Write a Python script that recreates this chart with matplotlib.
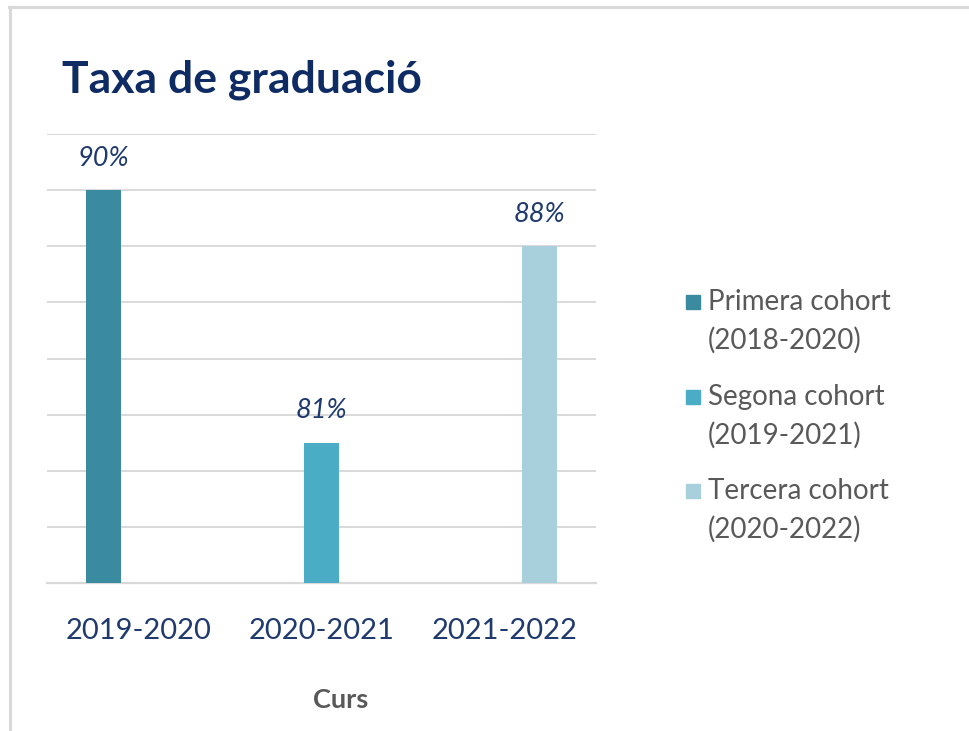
import matplotlib.pyplot as plt
from matplotlib.patches import Rectangle
from matplotlib.lines import Line2D
import numpy as np

plt.rcParams['font.family'] = ['Lato', 'DejaVu Sans']

categories = ["2019-2020", "2020-2021", "2021-2022"]
series_names = ["Primera cohort\n(2018-2020)", "Segona cohort\n(2019-2021)", "Tercera cohort\n(2020-2022)"]
primera = [90, np.nan, np.nan]
segona = [np.nan, 81, np.nan]
tercera = [np.nan, np.nan, 88]
series_values = [primera, segona, tercera]
colors = ["#3a8aa0", "#4bacc6", "#a8cfdc"]

W, H = 970, 731
fig = plt.figure(figsize=(W / 100, H / 100), dpi=100)

def fx(px):
    return px / W

def fy(py):
    return 1 - py / H

# frame of the screenshot
fig.add_artist(Line2D([fx(9), 1], [fy(7), fy(7)], color="#d9d9d9", lw=2.2))
fig.add_artist(Line2D([fx(10.5), fx(10.5)], [fy(7), 0], color="#d9d9d9", lw=2.2))

ax = fig.add_axes([fx(47), fy(583), fx(596) - fx(47), fy(134) - fy(583)])
x = np.arange(len(categories))
bw = 0.19
offsets = [-bw, 0, bw]
navy = "#1f3a6e"
for vals, off, col in zip(series_values, offsets, colors):
    bars = ax.bar(x + off, vals, width=bw, color=col, zorder=3)
    for xi, v in zip(x + off, vals):
        if not np.isnan(v):
            ax.annotate(f"{v:.0f}%", (xi, v), xytext=(0, 23), textcoords="offset points",
                        ha="center", va="center", fontsize=19.5, style="italic", color=navy)

ax.set_ylim(76, 92)
ax.set_xlim(-0.5, 2.5)
ax.set_yticks(np.arange(76, 93, 2))
ax.yaxis.grid(True, color="#d9d9d9", lw=1.4, zorder=0)
ax.tick_params(axis="y", length=0, labelleft=False)
ax.set_xticks(x)
ax.set_xticklabels(categories, fontsize=21, color=navy)
ax.tick_params(axis="x", length=0, pad=25)
for s in ["top", "right", "left"]:
    ax.spines[s].set_visible(False)
ax.spines["bottom"].set_color("#d9d9d9")
ax.spines["bottom"].set_linewidth(1.6)
ax.set_axisbelow(True)

fig.text(fx(341), fy(700), "Curs", ha="center", va="center", fontsize=19.5,
         fontweight="bold", color="#595959")

fig.text(fx(62), fy(93), "Taxa de graduació", ha="left", va="baseline", fontsize=32,
         fontweight="bold", color="#0f2b63")

# legend
entry_tops = [302, 397, 491]
for name, col, yc in zip(series_names, colors, entry_tops):
    fig.add_artist(Rectangle((fx(686), fy(yc + 7)), fx(14), fy(0) - fy(14), color=col,
                             transform=fig.transFigure))
    for i, line in enumerate(name.split("\n")):
        fig.text(fx(708), fy(yc + i * 38), line, ha="left", va="center", fontsize=20,
                 color="#595959")

fig.savefig("out.png", dpi=100)
